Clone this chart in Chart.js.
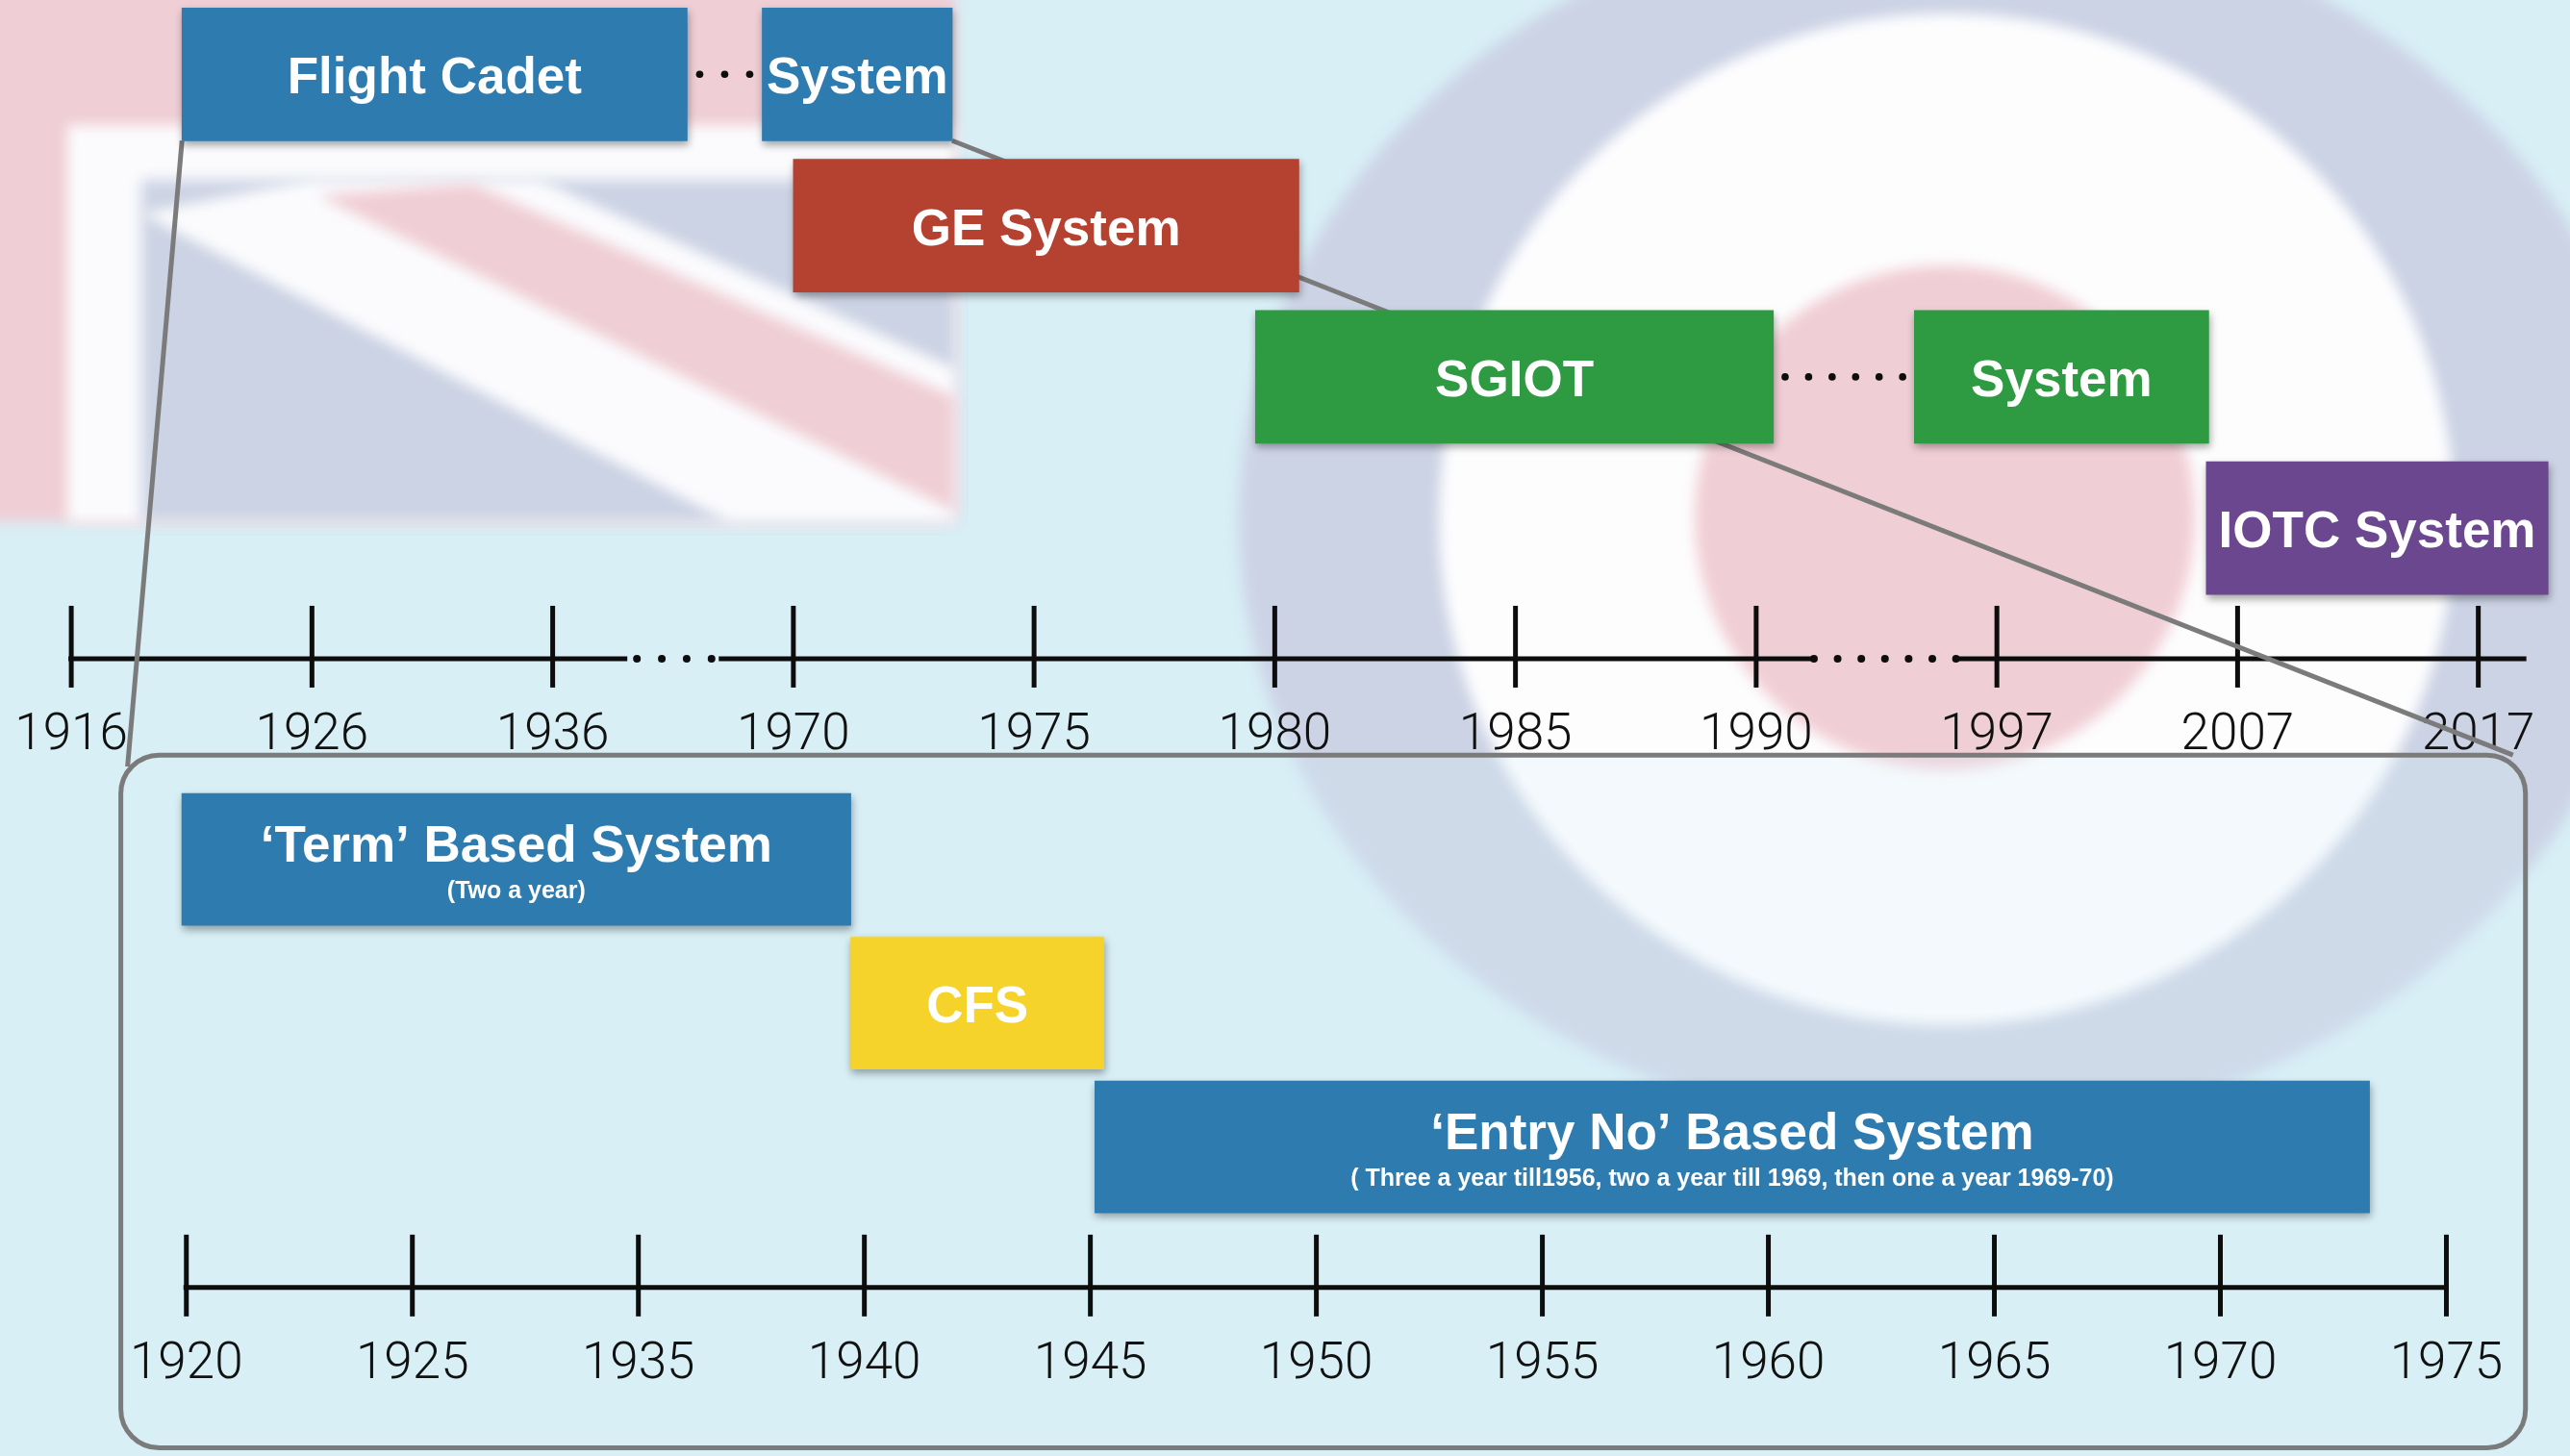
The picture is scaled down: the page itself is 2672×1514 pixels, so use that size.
<!DOCTYPE html>
<html>
<head>
<meta charset="utf-8">
<script src="https://cdn.jsdelivr.net/npm/chart.js@4.4.1/dist/chart.umd.min.js"></script>
<style>
html, body { margin: 0; padding: 0; background: #d8eff6; }
#wrap { width: 2672px; height: 1514px; }
</style>
</head>
<body>
<div id="wrap"><canvas id="timeline" width="2672" height="1514"></canvas></div>
<script>
// upper timeline, ticks are evenly spaced (not to scale)
const topTicks  = [1916, 1926, 1936, 1970, 1975, 1980, 1985, 1990, 1997, 2007, 2017];
const topNames  = ['Flight Cadet', 'System', 'GE System', 'SGIOT', 'System', 'IOTC System'];
const topFrom   = [1920.6, 1965.6, 1970.0, 1979.6, 1994.6, 2005.7];
const topTo     = [1955.0, 1973.3, 1980.5, 1990.5, 2005.8, 2019.9];
const topLane   = [0, 0, 1, 2, 2, 3];
const topColors = ['#2e7bb0', '#2e7bb0', '#b54230', '#2e9a42', '#2e9a42', '#6a478e'];
const topLinks  = [[0, 1], [3, 4]];   // boxes joined by dots

// lower (zoomed) timeline
const lowTicks  = [1920, 1925, 1935, 1940, 1945, 1950, 1955, 1960, 1965, 1970, 1975];
const lowNames  = ['\u2018Term\u2019 Based System', 'CFS', '\u2018Entry No\u2019 Based System'];
const lowNotes  = ['(Two a year)', '', '( Three a year till1956, two a year till 1969, then one a year 1969-70)'];
const lowFrom   = [1919.9, 1939.7, 1945.1];
const lowTo     = [1939.7, 1945.3, 1973.3];
const lowLane   = [5.19, 6.14, 7.09];
const lowColors = ['#2e7bb0', '#f5d32a', '#2e7bb0'];

const topAxisLane = 3.863;
const lowAxisLane = 8.02;
// broken parts of the upper axis line (fractions of the tick interval)
const topBreaks = [
  {after: 2, lineEnd: 0.31, lineStart: 0.69, dotFrom: 0.35, dotTo: 0.66, dots: 4},
  {after: 7, lineEnd: 0.235, lineStart: 0.83, dotFrom: 0.24, dotTo: 0.83, dots: 7}
];

// year -> position on an evenly spaced tick axis
function tickPos(ticks, year) {
  let i = 0;
  while (i < ticks.length - 2 && year > ticks[i + 1]) i++;
  return i + (year - ticks[i]) / (ticks[i + 1] - ticks[i]);
}

const topData = topNames.map((n, i) => ({x: [tickPos(topTicks, topFrom[i]), tickPos(topTicks, topTo[i])], y: topLane[i]}));
const lowData = lowNames.map((n, i) => ({x: [tickPos(lowTicks, lowFrom[i]), tickPos(lowTicks, lowTo[i])], y: lowLane[i]}));

function panelBox(chart) {
  const xs = chart.scales.xLow, ys = chart.scales.y;
  return {
    left: xs.getPixelForValue(-0.29), right: xs.getPixelForValue(10.35),
    top: ys.getPixelForValue(4.5), bottom: ys.getPixelForValue(9.08), r: 40
  };
}

function roundRect(ctx, b) {
  ctx.beginPath();
  ctx.moveTo(b.left + b.r, b.top);
  ctx.arcTo(b.right, b.top, b.right, b.bottom, b.r);
  ctx.arcTo(b.right, b.bottom, b.left, b.bottom, b.r);
  ctx.arcTo(b.left, b.bottom, b.left, b.top, b.r);
  ctx.arcTo(b.left, b.top, b.right, b.top, b.r);
  ctx.closePath();
}

function poly(ctx, pts, color) {
  ctx.fillStyle = color;
  ctx.beginPath();
  pts.forEach((p, i) => i ? ctx.lineTo(p[0], p[1]) : ctx.moveTo(p[0], p[1]));
  ctx.closePath();
  ctx.fill();
}

function ellipse(ctx, cx, cy, rx, ry, color) {
  ctx.fillStyle = color;
  ctx.beginPath();
  ctx.ellipse(cx, cy, rx, ry, 0, 0, Math.PI * 2);
  ctx.fill();
}

// faded flag + roundel picture behind everything
const backdrop = {
  id: 'backdrop',
  beforeDraw(chart) {
    const ctx = chart.ctx;
    ctx.save();
    ctx.fillStyle = '#d8eff6';
    ctx.fillRect(0, 0, chart.width, chart.height);
    ctx.filter = 'blur(7px)';
    ctx.fillStyle = '#efced5';
    ctx.fillRect(-30, -30, 1023, 573);
    ctx.fillStyle = '#fbfbfd';
    ctx.fillRect(70, 130, 923, 413);
    ctx.fillStyle = '#ccd3e4';
    ctx.fillRect(147, 187, 846, 356);
    poly(ctx, [[147, 222], [322, 187], [561, 187], [993, 383], [993, 543], [758, 543]], '#fbfbfd');
    poly(ctx, [[330, 203], [491, 191], [993, 413], [993, 532]], '#efced5');
    ellipse(ctx, 2024, 540, 736, 640, '#ccd3e5');
    ellipse(ctx, 2024, 540, 528, 526, '#fdfdfe');
    ellipse(ctx, 2022, 538, 260, 262, '#f0ced5');
    ctx.filter = 'none';
    const b = panelBox(chart);
    roundRect(ctx, b);
    ctx.fillStyle = 'rgba(216,239,246,0.25)';
    ctx.fill();
    ctx.restore();
  }
};

function drawAxis(chart, scale, lane, ticks, breaks, extra) {
  const ctx = chart.ctx;
  const py = chart.scales.y.getPixelForValue(lane);
  const px = v => scale.getPixelForValue(v);
  ctx.save();
  ctx.strokeStyle = '#0d0d0d';
  ctx.fillStyle = '#0d0d0d';
  ctx.lineWidth = 5;
  ticks.forEach((t, i) => {
    ctx.beginPath();
    ctx.moveTo(px(i), py - 55);
    ctx.lineTo(px(i), py + 30);
    ctx.stroke();
  });
  let start = px(0) - 3;
  const seg = (a, b) => { ctx.beginPath(); ctx.moveTo(a, py); ctx.lineTo(b, py); ctx.stroke(); };
  breaks.forEach(br => {
    seg(start, px(br.after + br.lineEnd));
    for (let k = 0; k < br.dots; k++) {
      const f = br.dotFrom + (br.dotTo - br.dotFrom) * k / (br.dots - 1);
      ctx.beginPath();
      ctx.arc(px(br.after + f), py, 4, 0, Math.PI * 2);
      ctx.fill();
    }
    start = px(br.after + br.lineStart);
  });
  seg(start, px(ticks.length - 1) + extra);
  ctx.restore();
}

const frame = {
  id: 'frame',
  beforeDatasetsDraw(chart) {
    const ctx = chart.ctx;
    drawAxis(chart, chart.scales.xTop, topAxisLane, topTicks, topBreaks, 50);
    drawAxis(chart, chart.scales.xLow, lowAxisLane, lowTicks, [], 2);
    const b = panelBox(chart);
    const bars = chart.getDatasetMeta(0).data;
    ctx.save();
    ctx.strokeStyle = '#7b7b7b';
    ctx.lineWidth = 5;
    roundRect(ctx, b);
    ctx.stroke();
    const fc = bars[0], sy = bars[1];
    ctx.beginPath();
    ctx.moveTo(fc.base, fc.y + fc.height / 2);
    ctx.lineTo(b.left + 7, b.top + 12);
    ctx.moveTo(sy.x, sy.y + sy.height / 2);
    ctx.lineTo(b.right - 13, b.top);
    ctx.stroke();
    ctx.restore();
  },
  beforeDatasetDraw(chart) {
    const ctx = chart.ctx;
    ctx.save();
    ctx.shadowColor = 'rgba(0,0,0,0.35)';
    ctx.shadowBlur = 8;
    ctx.shadowOffsetX = 1;
    ctx.shadowOffsetY = 4;
  },
  afterDatasetDraw(chart) {
    chart.ctx.restore();
  },
  afterDatasetsDraw(chart) {
    const ctx = chart.ctx;
    ctx.save();
    ctx.fillStyle = '#ffffff';
    ctx.textAlign = 'center';
    ctx.textBaseline = 'alphabetic';
    const top = chart.getDatasetMeta(0).data;
    top.forEach((el, i) => {
      ctx.font = 'bold 53px "Liberation Sans", Arial, sans-serif';
      ctx.fillText(topNames[i], (el.x + el.base) / 2, el.y + 20);
    });
    chart.getDatasetMeta(1).data.forEach((el, i) => {
      const cx = (el.x + el.base) / 2;
      ctx.font = 'bold 53px "Liberation Sans", Arial, sans-serif';
      if (lowNotes[i]) {
        ctx.fillText(lowNames[i], cx, el.y + 2);
        ctx.font = 'bold 25px "Liberation Sans", Arial, sans-serif';
        ctx.fillText(lowNotes[i], cx, el.y + 40);
      } else {
        ctx.fillText(lowNames[i], cx, el.y + 20);
      }
    });
    // dotted links between split boxes
    ctx.fillStyle = '#0d0d0d';
    topLinks.forEach(([a, c]) => {
      const A = top[a], C = top[c];
      const gap = C.base - A.x;
      const n = Math.max(2, Math.round(gap / 24));
      for (let k = 0; k < n; k++) {
        ctx.beginPath();
        ctx.arc(A.x + gap * (k + 0.5) / n, A.y, 3.8, 0, Math.PI * 2);
        ctx.fill();
      }
    });
    ctx.restore();
  }
};

const tickFont = {family: 'Roboto, "Liberation Sans", sans-serif', size: 53, weight: '300'};

// axes sit inside the plot, they must not take layout room
function noRoom(s) {
  s.height = 0;
  s.paddingTop = 0;
  s.paddingBottom = 0;
  s.paddingLeft = 0;
  s.paddingRight = 0;
}

new Chart(document.getElementById('timeline'), {
  type: 'bar',
  data: {
    datasets: [{
      label: 'Officer entry schemes',
      data: topData,
      xAxisID: 'xTop',
      yAxisID: 'y',
      backgroundColor: topColors,
      barThickness: 138,
      grouped: false,
      borderWidth: 0
    }, {
      label: 'Early schemes',
      data: lowData,
      xAxisID: 'xLow',
      yAxisID: 'y',
      backgroundColor: lowColors,
      barThickness: 137,
      grouped: false,
      borderWidth: 0
    }]
  },
  options: {
    indexAxis: 'y',
    responsive: false,
    animation: false,
    devicePixelRatio: 1,
    layout: {padding: 0},
    plugins: {
      legend: {display: false},
      tooltip: {enabled: false}
    },
    scales: {
      y: {
        type: 'linear',
        display: false,
        offset: false,
        reverse: true,
        min: -0.4914,
        max: 9.1335
      },
      xTop: {
        axis: 'x',
        type: 'linear',
        offset: false,
        min: -0.2961,
        max: 10.381,
        position: {y: topAxisLane},
        afterBuildTicks: s => { s.ticks = topTicks.map((t, i) => ({value: i})); },
        afterFit: noRoom,
        grid: {display: false, drawTicks: false},
        border: {display: false},
        ticks: {
          callback: v => String(topTicks[v]),
          autoSkip: false, maxRotation: 0, minRotation: 0,
          padding: 49, color: '#111', font: tickFont
        }
      },
      xLow: {
        axis: 'x',
        type: 'linear',
        offset: false,
        min: -0.8246,
        max: 10.547,
        position: {y: lowAxisLane},
        afterBuildTicks: s => { s.ticks = lowTicks.map((t, i) => ({value: i})); },
        afterFit: noRoom,
        grid: {display: false, drawTicks: false},
        border: {display: false},
        ticks: {
          callback: v => String(lowTicks[v]),
          autoSkip: false, maxRotation: 0, minRotation: 0,
          padding: 49, color: '#111', font: tickFont
        }
      }
    }
  },
  plugins: [backdrop, frame]
});
</script>
</body>
</html>
